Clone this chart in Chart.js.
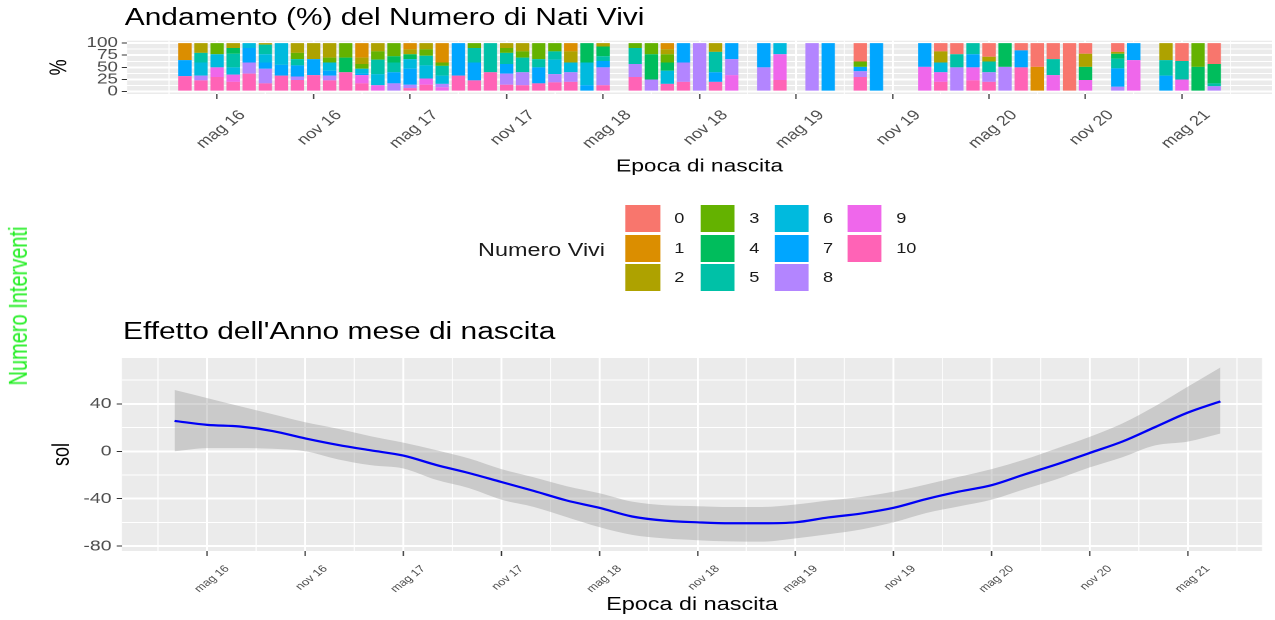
<!DOCTYPE html>
<html>
<head>
<meta charset="utf-8">
<script src="https://cdn.jsdelivr.net/npm/chart.js@4.4.1/dist/chart.umd.min.js"></script>
<style>
  html, body { margin: 0; padding: 0; background: #fff; width: 1275px; height: 620px; overflow: hidden; }
  #stage { position: absolute; left: 0; top: 0; width: 981px; height: 620px; transform-origin: 0 0; transform: scaleX(1.3); font-family: "Liberation Sans", Arial, sans-serif; }
  .abs { position: absolute; white-space: nowrap; }
  .ptitle { font-size: 23px; line-height: 23px; color: #000; }
  .key { position: absolute; width: 26.4px; height: 27px; }
  .klab { position: absolute; font-size: 14px; line-height: 27px; color: #1a1a1a; }
  #sideLabel { left: 13.8px; top: 306px; font-size: 20px; line-height: 20px; color: #22ee22; transform: translate(-50%, -50%) rotate(-90deg); }
</style>
</head>
<body>
<div id="stage">
  <div class="abs ptitle" style="left:96px; top:6px">Andamento (%) del Numero di Nati Vivi</div>
  <canvas id="topChart" class="abs" width="981" height="150" style="left:0; top:29px"></canvas>
  <div id="legend"></div>
  <div class="abs ptitle" style="left:94.6px; top:320px">Effetto dell'Anno mese di nascita</div>
  <canvas id="bottomChart" class="abs" width="981" height="275" style="left:0; top:345px"></canvas>
  <div class="abs" id="sideLabel">Numero Interventi</div>
</div>
<script>
// --- data ---
const categories = ["0", "1", "2", "3", "4", "5", "6", "7", "8", "9", "10"];
const colors = ["#F8766D", "#DB8E00", "#AEA200", "#64B200", "#00BD5C", "#00C1A7", "#00BADE", "#00A6FF", "#B385FF", "#EF67EB", "#FF63B6"];

const barMonths = [
  "2016-03","2016-04","2016-05","2016-06","2016-07","2016-08","2016-09","2016-10","2016-11","2016-12",
  "2017-01","2017-02","2017-03","2017-04","2017-05","2017-06","2017-07","2017-08","2017-09","2017-10",
  "2017-11","2017-12","2018-01","2018-02","2018-03","2018-04","2018-05","2018-07","2018-08","2018-09",
  "2018-10","2018-11","2018-12","2019-01","2019-03","2019-04","2019-06","2019-07","2019-09","2019-10",
  "2020-01","2020-02","2020-03","2020-04","2020-05","2020-06","2020-07","2020-08","2020-09","2020-10",
  "2020-11","2021-01","2021-02","2021-04","2021-05","2021-06","2021-07"
];

// share (%) of each "Numero Vivi" level, one value per month above
const nv0  = [0,0,0,0,0,0,0,0,0,0, 0,0,0,0,0,0,0,0,0,0, 0,0,0,0,0,0,0,0,0,0, 0,0,0,0,0,0,0,0,38,0, 0,17,23,0,28,0,15,49,33,100, 22,18,0,0,37,0,43];
const nv1  = [35,0,0,0,0,0,0,0,0,0, 0,30,0,0,13,0,40,0,0,0, 0,0,0,0,17,0,0,0,0,13, 0,0,0,0,0,0,0,0,0,0, 0,0,0,0,0,0,0,51,0,0, 0,0,0,0,0,0,0];
const nv2  = [0,20,0,10,0,3,0,20,33,30, 0,13,17,0,10,13,0,0,0,0, 10,17,0,0,23,0,7,0,0,10, 0,0,18,0,0,0,0,0,0,0, 0,23,0,0,10,0,0,0,0,0, 27,4,0,35,0,0,0];
const nv3  = [0,0,23,0,0,0,0,13,0,10, 30,10,17,27,0,13,7,0,10,0, 10,13,33,17,0,0,0,10,23,17, 0,0,0,0,0,0,0,0,11,0, 0,0,0,0,0,0,0,0,0,0, 0,0,0,0,0,49,0];
const nv4  = [0,0,0,12,0,0,0,0,0,0, 30,0,0,13,10,0,0,0,0,0, 0,0,0,0,0,40,20,0,52,17, 0,0,0,0,0,0,0,0,0,0, 0,0,0,0,0,49,0,0,0,0, 27,10,0,0,0,51,40];
const nv5  = [0,20,0,28,0,20,0,13,0,0, 0,0,30,20,0,20,20,0,30,60, 23,30,17,17,0,0,10,33,0,0, 0,0,42,0,0,0,0,0,0,0, 0,0,27,23,22,0,0,0,33,0, 0,20,0,32,38,0,6];
const nv6  = [0,27,27,15,10,17,45,0,0,17, 0,10,23,0,20,27,17,0,0,0, 0,0,0,30,20,47,0,0,0,27, 0,0,0,0,0,23,0,0,0,0, 0,20,0,0,0,0,0,0,0,0, 0,0,0,0,0,0,0];
const nv7  = [33,0,0,0,30,13,22,23,33,10, 0,3,0,23,33,0,0,67,37,0, 20,0,33,0,0,13,13,0,0,0, 40,0,20,33,50,0,0,100,9,100, 49,0,0,27,0,0,35,0,0,0, 0,38,35,33,0,0,0];
const nv8  = [0,10,0,0,23,30,0,7,0,10, 0,0,0,17,7,0,7,0,0,0, 23,27,0,17,20,0,37,27,25,0, 40,100,0,33,50,0,100,0,12,0, 0,0,50,0,20,51,0,0,0,0, 0,10,0,0,0,0,11];
const nv9  = [0,0,20,15,0,0,0,0,0,0, 0,17,13,0,0,13,9,0,0,0, 0,0,0,0,0,0,0,0,0,0, 0,0,0,34,0,53,0,0,0,0, 51,20,0,27,0,0,0,0,34,0, 24,0,65,0,25,0,0];
const nv10 = [32,23,30,20,37,17,33,24,34,23, 40,17,0,0,7,14,0,33,23,40, 14,13,17,19,20,0,13,30,0,16, 20,0,20,0,0,24,0,0,30,0, 0,20,0,23,20,0,50,0,0,0, 0,0,0,0,0,0,0];
const shares = [nv0, nv1, nv2, nv3, nv4, nv5, nv6, nv7, nv8, nv9, nv10];

// smoothed effect of birth month, with its band
const smoothMonths = [
  "2016-03","2016-05","2016-07","2016-09","2016-11","2017-01","2017-03","2017-05","2017-07","2017-09",
  "2017-11","2018-01","2018-03","2018-05","2018-07","2018-09","2018-11","2019-01","2019-03","2019-05",
  "2019-07","2019-09","2019-11","2020-01","2020-03","2020-05","2020-07","2020-09","2020-11","2021-01",
  "2021-03","2021-05","2021-07"
];
const solFit   = [25.6, 22.3, 20.9, 17.1, 10.9, 5.4, 0.8, -3.6, -11.5, -18.3, -25.9, -33.5, -41.5, -47.7, -55, -58.5, -59.9, -60.7, -60.7, -59.9, -55.8, -52.5, -47.7, -40.3, -34, -28.6, -19.6, -10.9, -1.4, 8.2, 20.4, 32.6, 42.1];
const solLower = [0, 2.7, 2.7, 2.1, 0, -6.8, -11.7, -14.5, -24, -31, -40.8, -47, -55.5, -64, -70.5, -73.5, -75, -76, -76.2, -73.5, -70, -66, -59.9, -52, -46.5, -40.8, -32, -23.5, -13.6, -5, 5, 8.2, 15];
const solUpper = [51.7, 44.9, 38, 31.3, 24.5, 19, 12.7, 7.3, 1, -6, -15, -22, -29.5, -35.4, -42.5, -45.5, -46.3, -47, -47, -44.9, -41.5, -38.5, -34, -28, -21.5, -15, -7, 2.5, 12.2, 23.5, 38, 54.4, 70.7];

// axis ticks
const tickMonths = ["2016-05","2016-11","2017-05","2017-11","2018-05","2018-11","2019-05","2019-11","2020-05","2020-11","2021-05"];
const tickLabels = ["mag 16","nov 16","mag 17","nov 17","mag 18","nov 18","mag 19","nov 19","mag 20","nov 20","mag 21"];
const pctTicks = [0, 25, 50, 75, 100];
const solTicks = [-80, -40, 0, 40];

// --- helpers ---
function monthIndex(s) {
  const [y, m] = s.split("-").map(Number);
  return (y - 2016) * 12 + (m - 1);
}
const majorX = tickMonths.map(monthIndex);
// minor grid halfway between majors, plus one each side
const minorX = [majorX[0] - 3].concat(majorX.map(v => v + 3));
const gridX = majorX.concat(minorX).sort((a, b) => a - b);
const xLabel = v => { const i = majorX.indexOf(v); return i >= 0 ? tickLabels[i] : ""; };

function withMinors(list) {
  const step = list[1] - list[0];
  const out = [];
  list.forEach(v => { out.push(v); out.push(v + step / 2); });
  out.unshift(list[0] - step / 2);
  return out.sort((a, b) => a - b);
}

Chart.defaults.font.family = '"Liberation Sans", Arial, sans-serif';

const panelBg = {
  id: "panelBg",
  beforeDraw(chart) {
    const { ctx, chartArea: a } = chart;
    ctx.save();
    ctx.fillStyle = "#EBEBEB";
    ctx.fillRect(a.left, a.top, a.width, a.height);
    ctx.restore();
  }
};

function xGrid(tickLen) {
  return {
    offset: false,
    color: "#FFFFFF",
    lineWidth: ctx => (ctx.tick && majorX.includes(ctx.tick.value)) ? 1.5 : 0.8,
    tickColor: ctx => (ctx.tick && majorX.includes(ctx.tick.value)) ? "#333333" : "rgba(0,0,0,0)",
    tickLength: tickLen,
    tickWidth: 1
  };
}
function yGrid(majors, tickLen) {
  return {
    color: "#FFFFFF",
    lineWidth: ctx => (ctx.tick && majors.includes(ctx.tick.value)) ? 2 : 1,
    tickColor: ctx => (ctx.tick && majors.includes(ctx.tick.value)) ? "#333333" : "rgba(0,0,0,0)",
    tickLength: tickLen,
    tickWidth: 1
  };
}

// --- top chart: 100% stacked bars ---
const barSets = [];
for (let k = categories.length - 1; k >= 0; k--) {
  barSets.push({
    label: categories[k],
    data: barMonths.map((m, i) => ({ x: monthIndex(m), y: shares[k][i] })),
    backgroundColor: colors[k],
    borderWidth: 0,
    grouped: false,
    barPercentage: 0.83,
    categoryPercentage: 1
  });
}

new Chart(document.getElementById("topChart"), {
  type: "bar",
  data: { datasets: barSets },
  plugins: [panelBg],
  options: {
    responsive: false,
    devicePixelRatio: 2,
    animation: false,
    layout: { autoPadding: false, padding: { left: 0, right: 2.5, top: 10, bottom: 0 } },
    plugins: { legend: { display: false }, tooltip: { enabled: false } },
    scales: {
      x: {
        type: "linear", min: -1.6, max: 69.6, offset: false,
        afterBuildTicks: s => { s.ticks = gridX.map(v => ({ value: v })); },
        afterFit: s => { s.height = 85; },
        ticks: { autoSkip: false, minRotation: 45, maxRotation: 45, font: { size: 14 }, color: "#4D4D4D", padding: 8, labelOffset: 19.5, callback: v => xLabel(v) },
        grid: xGrid(5),
        border: { display: false },
        title: { display: true, text: "Epoca di nascita", font: { size: 17.5 }, color: "#000", padding: { top: 0, bottom: 2 } }
      },
      y: {
        stacked: true, min: -5, max: 105,
        afterBuildTicks: s => { s.ticks = withMinors(pctTicks).filter(v => v >= -5 && v <= 105).map(v => ({ value: v })); },
        afterFit: s => { s.width = 97.7; },
        ticks: { autoSkip: false, font: { size: 14.5 }, color: "#4D4D4D", padding: 3, callback: v => pctTicks.includes(v) ? String(v) : "" },
        grid: yGrid(pctTicks, 4),
        border: { display: false },
        title: { display: true, text: "%", font: { size: 18 }, color: "#000", padding: { top: 35.4, bottom: 0 } }
      }
    }
  }
});

// --- legend ---
const legend = document.getElementById("legend");
const legendTitle = document.createElement("div");
legendTitle.className = "abs";
legendTitle.style.cssText = "left:367.7px; top:239px; font-size:18px; line-height:22px; color:#1a1a1a";
legendTitle.textContent = "Numero Vivi";
legend.appendChild(legendTitle);
const keyCols = [481.3, 539, 595.6, 652];
const keyRows = [205, 235, 264];
categories.forEach((c, i) => {
  const col = Math.floor(i / 3), row = i % 3;
  const key = document.createElement("div");
  key.className = "key";
  key.style.left = keyCols[col] + "px";
  key.style.top = keyRows[row] + "px";
  key.style.background = colors[i];
  legend.appendChild(key);
  const lab = document.createElement("div");
  lab.className = "klab";
  lab.style.left = (keyCols[col] + 37.4) + "px";
  lab.style.top = keyRows[row] + "px";
  lab.textContent = c;
  legend.appendChild(lab);
});

// --- bottom chart: smooth line with band ---
const pts = arr => smoothMonths.map((m, i) => ({ x: monthIndex(m), y: arr[i] }));

new Chart(document.getElementById("bottomChart"), {
  type: "line",
  data: {
    datasets: [
      { label: "fit", data: pts(solFit), borderColor: "#0000F5", borderWidth: 2.2, pointRadius: 0, fill: false, cubicInterpolationMode: "monotone" },
      { label: "lower", data: pts(solLower), borderWidth: 0, borderColor: "rgba(0,0,0,0)", pointRadius: 0, fill: false, cubicInterpolationMode: "monotone" },
      { label: "upper", data: pts(solUpper), borderWidth: 0, borderColor: "rgba(0,0,0,0)", pointRadius: 0, fill: "-1", backgroundColor: "rgba(153,153,153,0.4)", cubicInterpolationMode: "monotone" }
    ]
  },
  plugins: [panelBg],
  options: {
    responsive: false,
    devicePixelRatio: 2,
    animation: false,
    layout: { autoPadding: false, padding: { left: 0, right: 10.2, top: 7, bottom: 0 } },
    plugins: { legend: { display: false }, tooltip: { enabled: false } },
    scales: {
      x: {
        type: "linear", min: -1.22, max: 68.55, offset: false,
        afterBuildTicks: s => { s.ticks = gridX.map(v => ({ value: v })); },
        afterFit: s => { s.height = 69; },
        ticks: { autoSkip: false, minRotation: 45, maxRotation: 45, font: { size: 10 }, color: "#4D4D4D", padding: 7, labelOffset: 15.5, callback: v => xLabel(v) },
        grid: xGrid(5),
        border: { display: false },
        title: { display: true, text: "Epoca di nascita", font: { size: 18 }, color: "#000", padding: { top: 0, bottom: 4.2 } }
      },
      y: {
        min: -84.1, max: 78.7,
        afterBuildTicks: s => { s.ticks = withMinors(solTicks).filter(v => v >= -84.1 && v <= 78.7).map(v => ({ value: v })); },
        afterFit: s => { s.width = 93.8; },
        ticks: { autoSkip: false, font: { size: 15 }, color: "#4D4D4D", padding: 4, callback: v => solTicks.includes(v) ? String(v) : "" },
        grid: yGrid(solTicks, 4),
        border: { display: false },
        title: { display: true, text: "sol", font: { size: 18 }, color: "#000", padding: { top: 37.2, bottom: 0 } }
      }
    }
  }
});
</script>
</body>
</html>
